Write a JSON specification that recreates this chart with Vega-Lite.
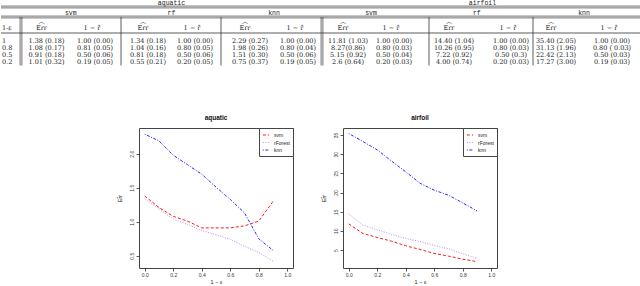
{
  "$schema": "https://vega.github.io/schema/vega-lite/v6.json",
  "padding": 0,
  "background": "white",
  "spacing": 0,
  "config": {
    "view": {"stroke": null},
    "font": "Liberation Sans",
    "axis": {
      "domain": false, "grid": false, "tickSize": 3, "tickColor": "#333", "tickWidth": 0.8,
      "labelFontSize": 5, "labelColor": "#333", "labelPadding": 1.5, "labelFont": "Liberation Sans",
      "labelFlush": false, "labelOverlap": false,
      "titleFontSize": 5.5, "titleFontWeight": "normal", "titleColor": "#222", "titleFont": "Liberation Sans"
    }
  },
  "vconcat": [
    {
      "width": 640,
      "height": 114,
      "view": {"stroke": null},
      "layer": [
        {
          "data": {"values": [{"r": 0.5}, {"r": 1.5}]},
          "mark": {"type": "rule", "strokeWidth": 0.7, "color": "#333", "yOffset": -0.9},
          "encoding": {
            "y": {"field": "r", "type": "quantitative", "axis": null, "scale": {"domain": [0, 0.5, 1, 1.5, 2, 2.5, 3, 6, 6.5], "range": [3.3, 7, 12.5, 17, 28, 33, 40.5, 61.5, 65.5], "nice": false, "zero": false}},
            "x": {"datum": -0.5, "type": "quantitative", "axis": null, "scale": {"domain": [-0.5, 0, 0.5, 1, 2, 2.5, 3, 4, 4.5, 5, 6, 6.5, 7, 8, 8.5, 9, 10, 10.5, 11, 12, 12.5], "range": [0, 7, 20, 45.5, 94, 120, 147, 194, 220, 249, 297, 321, 347, 393, 428, 453, 510, 532, 555, 611, 640], "nice": false, "zero": false}},
            "x2": {"datum": 12.5}
          }
        },
        {
          "data": {"values": [{"r": 0.5}, {"r": 1.5}]},
          "mark": {"type": "rule", "strokeWidth": 0.7, "color": "#333", "yOffset": 0.9},
          "encoding": {
            "y": {"field": "r", "type": "quantitative", "axis": null, "scale": {"domain": [0, 0.5, 1, 1.5, 2, 2.5, 3, 6, 6.5], "range": [3.3, 7, 12.5, 17, 28, 33, 40.5, 61.5, 65.5], "nice": false, "zero": false}},
            "x": {"datum": -0.5, "type": "quantitative", "axis": null, "scale": {"domain": [-0.5, 0, 0.5, 1, 2, 2.5, 3, 4, 4.5, 5, 6, 6.5, 7, 8, 8.5, 9, 10, 10.5, 11, 12, 12.5], "range": [0, 7, 20, 45.5, 94, 120, 147, 194, 220, 249, 297, 321, 347, 393, 428, 453, 510, 532, 555, 611, 640], "nice": false, "zero": false}},
            "x2": {"datum": 12.5}
          }
        },
        {
          "data": {"values": [{"r": 2.5}]},
          "mark": {"type": "rule", "strokeWidth": 0.8, "color": "#333"},
          "encoding": {
            "y": {"field": "r", "type": "quantitative", "axis": null, "scale": {"domain": [0, 0.5, 1, 1.5, 2, 2.5, 3, 6, 6.5], "range": [3.3, 7, 12.5, 17, 28, 33, 40.5, 61.5, 65.5], "nice": false, "zero": false}},
            "x": {"datum": -0.5, "type": "quantitative", "axis": null, "scale": {"domain": [-0.5, 0, 0.5, 1, 2, 2.5, 3, 4, 4.5, 5, 6, 6.5, 7, 8, 8.5, 9, 10, 10.5, 11, 12, 12.5], "range": [0, 7, 20, 45.5, 94, 120, 147, 194, 220, 249, 297, 321, 347, 393, 428, 453, 510, 532, 555, 611, 640], "nice": false, "zero": false}},
            "x2": {"datum": 12.5}
          }
        },
        {
          "data": {"values": [{"c": 0.5}, {"c": 6.5}]},
          "mark": {"type": "rule", "strokeWidth": 0.7, "color": "#333", "xOffset": -0.9},
          "encoding": {
            "x": {"field": "c", "type": "quantitative", "axis": null, "scale": {"domain": [-0.5, 0, 0.5, 1, 2, 2.5, 3, 4, 4.5, 5, 6, 6.5, 7, 8, 8.5, 9, 10, 10.5, 11, 12, 12.5], "range": [0, 7, 20, 45.5, 94, 120, 147, 194, 220, 249, 297, 321, 347, 393, 428, 453, 510, 532, 555, 611, 640], "nice": false, "zero": false}},
            "y": {"datum": 1.5, "type": "quantitative", "axis": null, "scale": {"domain": [0, 0.5, 1, 1.5, 2, 2.5, 3, 6, 6.5], "range": [3.3, 7, 12.5, 17, 28, 33, 40.5, 61.5, 65.5], "nice": false, "zero": false}},
            "y2": {"datum": 6.5}
          }
        },
        {
          "data": {"values": [{"c": 0.5}, {"c": 6.5}]},
          "mark": {"type": "rule", "strokeWidth": 0.7, "color": "#333", "xOffset": 0.9},
          "encoding": {
            "x": {"field": "c", "type": "quantitative", "axis": null, "scale": {"domain": [-0.5, 0, 0.5, 1, 2, 2.5, 3, 4, 4.5, 5, 6, 6.5, 7, 8, 8.5, 9, 10, 10.5, 11, 12, 12.5], "range": [0, 7, 20, 45.5, 94, 120, 147, 194, 220, 249, 297, 321, 347, 393, 428, 453, 510, 532, 555, 611, 640], "nice": false, "zero": false}},
            "y": {"datum": 1.5, "type": "quantitative", "axis": null, "scale": {"domain": [0, 0.5, 1, 1.5, 2, 2.5, 3, 6, 6.5], "range": [3.3, 7, 12.5, 17, 28, 33, 40.5, 61.5, 65.5], "nice": false, "zero": false}},
            "y2": {"datum": 6.5}
          }
        },
        {
          "data": {"values": [{"c": 2.5}, {"c": 4.5}, {"c": 8.5}, {"c": 10.5}]},
          "mark": {"type": "rule", "strokeWidth": 0.8, "color": "#333"},
          "encoding": {
            "x": {"field": "c", "type": "quantitative", "axis": null, "scale": {"domain": [-0.5, 0, 0.5, 1, 2, 2.5, 3, 4, 4.5, 5, 6, 6.5, 7, 8, 8.5, 9, 10, 10.5, 11, 12, 12.5], "range": [0, 7, 20, 45.5, 94, 120, 147, 194, 220, 249, 297, 321, 347, 393, 428, 453, 510, 532, 555, 611, 640], "nice": false, "zero": false}},
            "y": {"datum": 1.5, "type": "quantitative", "axis": null, "scale": {"domain": [0, 0.5, 1, 1.5, 2, 2.5, 3, 6, 6.5], "range": [3.3, 7, 12.5, 17, 28, 33, 40.5, 61.5, 65.5], "nice": false, "zero": false}},
            "y2": {"datum": 6.5}
          }
        },
        {
          "data": {"values": [{"dataset": "aquatic", "c": 3.5}, {"dataset": "airfoil", "c": 9.5}]},
          "mark": {"type": "text", "font": "Liberation Mono", "fontSize": 6.5, "color": "#222", "baseline": "middle", "align": "center"},
          "encoding": {
            "text": {"field": "dataset"},
            "x": {"field": "c", "type": "quantitative", "axis": null, "scale": {"domain": [-0.5, 0, 0.5, 1, 2, 2.5, 3, 4, 4.5, 5, 6, 6.5, 7, 8, 8.5, 9, 10, 10.5, 11, 12, 12.5], "range": [0, 7, 20, 45.5, 94, 120, 147, 194, 220, 249, 297, 321, 347, 393, 428, 453, 510, 532, 555, 611, 640], "nice": false, "zero": false}},
            "y": {"datum": 0, "type": "quantitative", "axis": null, "scale": {"domain": [0, 0.5, 1, 1.5, 2, 2.5, 3, 6, 6.5], "range": [3.3, 7, 12.5, 17, 28, 33, 40.5, 61.5, 65.5], "nice": false, "zero": false}}
          }
        },
        {
          "data": {"values": [{"model": "svm", "c": 1.5}, {"model": "rf", "c": 3.5}, {"model": "knn", "c": 5.5}, {"model": "svm", "c": 7.5}, {"model": "rf", "c": 9.4}, {"model": "knn", "c": 11.5}]},
          "mark": {"type": "text", "font": "Liberation Mono", "fontSize": 6.5, "color": "#222", "baseline": "middle", "align": "center"},
          "encoding": {
            "text": {"field": "model"},
            "x": {"field": "c", "type": "quantitative", "axis": null, "scale": {"domain": [-0.5, 0, 0.5, 1, 2, 2.5, 3, 4, 4.5, 5, 6, 6.5, 7, 8, 8.5, 9, 10, 10.5, 11, 12, 12.5], "range": [0, 7, 20, 45.5, 94, 120, 147, 194, 220, 249, 297, 321, 347, 393, 428, 453, 510, 532, 555, 611, 640], "nice": false, "zero": false}},
            "y": {"datum": 1, "type": "quantitative", "axis": null, "scale": {"domain": [0, 0.5, 1, 1.5, 2, 2.5, 3, 6, 6.5], "range": [3.3, 7, 12.5, 17, 28, 33, 40.5, 61.5, 65.5], "nice": false, "zero": false}}
          }
        },
        {
          "data": {"values": [{"c": 1}, {"c": 3}, {"c": 5}, {"c": 7}, {"c": 9}, {"c": 11}]},
          "mark": {"type": "text", "font": "DejaVu Serif", "fontSize": 6.5, "color": "#222", "baseline": "middle", "align": "center", "dx": -5, "text": "Err"},
          "encoding": {
            "x": {"field": "c", "type": "quantitative", "axis": null, "scale": {"domain": [-0.5, 0, 0.5, 1, 2, 2.5, 3, 4, 4.5, 5, 6, 6.5, 7, 8, 8.5, 9, 10, 10.5, 11, 12, 12.5], "range": [0, 7, 20, 45.5, 94, 120, 147, 194, 220, 249, 297, 321, 347, 393, 428, 453, 510, 532, 555, 611, 640], "nice": false, "zero": false}},
            "y": {"datum": 2, "type": "quantitative", "axis": null, "scale": {"domain": [0, 0.5, 1, 1.5, 2, 2.5, 3, 6, 6.5], "range": [3.3, 7, 12.5, 17, 28, 33, 40.5, 61.5, 65.5], "nice": false, "zero": false}}
          }
        },
        {
          "data": {"values": [{"c": 1}, {"c": 3}, {"c": 5}, {"c": 7}, {"c": 9}, {"c": 11}]},
          "mark": {"type": "text", "font": "Noto Sans CJK SC", "fontSize": 6, "color": "#222", "baseline": "middle", "align": "center", "dx": -5, "dy": -7.2, "text": "︿"},
          "encoding": {
            "x": {"field": "c", "type": "quantitative", "axis": null, "scale": {"domain": [-0.5, 0, 0.5, 1, 2, 2.5, 3, 4, 4.5, 5, 6, 6.5, 7, 8, 8.5, 9, 10, 10.5, 11, 12, 12.5], "range": [0, 7, 20, 45.5, 94, 120, 147, 194, 220, 249, 297, 321, 347, 393, 428, 453, 510, 532, 555, 611, 640], "nice": false, "zero": false}},
            "y": {"datum": 2, "type": "quantitative", "axis": null, "scale": {"domain": [0, 0.5, 1, 1.5, 2, 2.5, 3, 6, 6.5], "range": [3.3, 7, 12.5, 17, 28, 33, 40.5, 61.5, 65.5], "nice": false, "zero": false}}
          }
        },
        {
          "data": {"values": [{"c": 2}, {"c": 4}, {"c": 6}, {"c": 8}, {"c": 10}, {"c": 12}]},
          "mark": {"type": "text", "font": "DejaVu Serif", "fontSize": 6.5, "color": "#222", "baseline": "middle", "align": "center", "dx": -3, "text": "1 − r̂"},
          "encoding": {
            "x": {"field": "c", "type": "quantitative", "axis": null, "scale": {"domain": [-0.5, 0, 0.5, 1, 2, 2.5, 3, 4, 4.5, 5, 6, 6.5, 7, 8, 8.5, 9, 10, 10.5, 11, 12, 12.5], "range": [0, 7, 20, 45.5, 94, 120, 147, 194, 220, 249, 297, 321, 347, 393, 428, 453, 510, 532, 555, 611, 640], "nice": false, "zero": false}},
            "y": {"datum": 2, "type": "quantitative", "axis": null, "scale": {"domain": [0, 0.5, 1, 1.5, 2, 2.5, 3, 6, 6.5], "range": [3.3, 7, 12.5, 17, 28, 33, 40.5, 61.5, 65.5], "nice": false, "zero": false}}
          }
        },
        {
          "data": {"values": [{"label": "1-ε", "row": 2}, {"label": "1", "row": 3}, {"label": "0.8", "row": 4}, {"label": "0.5", "row": 5}, {"label": "0.2", "row": 6}]},
          "mark": {"type": "text", "font": "DejaVu Serif", "fontSize": 6.5, "color": "#222", "baseline": "middle", "align": "left", "dx": 1},
          "encoding": {
            "text": {"field": "label"},
            "x": {"datum": -0.5, "type": "quantitative", "axis": null, "scale": {"domain": [-0.5, 0, 0.5, 1, 2, 2.5, 3, 4, 4.5, 5, 6, 6.5, 7, 8, 8.5, 9, 10, 10.5, 11, 12, 12.5], "range": [0, 7, 20, 45.5, 94, 120, 147, 194, 220, 249, 297, 321, 347, 393, 428, 453, 510, 532, 555, 611, 640], "nice": false, "zero": false}},
            "y": {"field": "row", "type": "quantitative", "axis": null, "scale": {"domain": [0, 0.5, 1, 1.5, 2, 2.5, 3, 6, 6.5], "range": [3.3, 7, 12.5, 17, 28, 33, 40.5, 61.5, 65.5], "nice": false, "zero": false}}
          }
        },
        {
          "data": {"values": [
            {"dataset": "aquatic", "model": "svm", "stat": "Err", "col": 1, "row": 3, "value": "1.38 (0.18)"},
            {"dataset": "aquatic", "model": "svm", "stat": "Err", "col": 1, "row": 4, "value": "1.08 (0.17)"},
            {"dataset": "aquatic", "model": "svm", "stat": "Err", "col": 1, "row": 5, "value": "0.91 (0.18)"},
            {"dataset": "aquatic", "model": "svm", "stat": "Err", "col": 1, "row": 6, "value": "1.01 (0.32)"},
            {"dataset": "aquatic", "model": "svm", "stat": "r", "col": 2, "row": 3, "value": "1.00 (0.00)"},
            {"dataset": "aquatic", "model": "svm", "stat": "r", "col": 2, "row": 4, "value": "0.81 (0.05)"},
            {"dataset": "aquatic", "model": "svm", "stat": "r", "col": 2, "row": 5, "value": "0.50 (0.06)"},
            {"dataset": "aquatic", "model": "svm", "stat": "r", "col": 2, "row": 6, "value": "0.19 (0.05)"},
            {"dataset": "aquatic", "model": "rf", "stat": "Err", "col": 3, "row": 3, "value": "1.34 (0.18)"},
            {"dataset": "aquatic", "model": "rf", "stat": "Err", "col": 3, "row": 4, "value": "1.04 (0.16)"},
            {"dataset": "aquatic", "model": "rf", "stat": "Err", "col": 3, "row": 5, "value": "0.81 (0.18)"},
            {"dataset": "aquatic", "model": "rf", "stat": "Err", "col": 3, "row": 6, "value": "0.55 (0.21)"},
            {"dataset": "aquatic", "model": "rf", "stat": "r", "col": 4, "row": 3, "value": "1.00 (0.00)"},
            {"dataset": "aquatic", "model": "rf", "stat": "r", "col": 4, "row": 4, "value": "0.80 (0.05)"},
            {"dataset": "aquatic", "model": "rf", "stat": "r", "col": 4, "row": 5, "value": "0.50 (0.06)"},
            {"dataset": "aquatic", "model": "rf", "stat": "r", "col": 4, "row": 6, "value": "0.20 (0.05)"},
            {"dataset": "aquatic", "model": "knn", "stat": "Err", "col": 5, "row": 3, "value": "2.29 (0.27)"},
            {"dataset": "aquatic", "model": "knn", "stat": "Err", "col": 5, "row": 4, "value": "1.98 (0.26)"},
            {"dataset": "aquatic", "model": "knn", "stat": "Err", "col": 5, "row": 5, "value": "1.51 (0.30)"},
            {"dataset": "aquatic", "model": "knn", "stat": "Err", "col": 5, "row": 6, "value": "0.75 (0.37)"},
            {"dataset": "aquatic", "model": "knn", "stat": "r", "col": 6, "row": 3, "value": "1.00 (0.00)"},
            {"dataset": "aquatic", "model": "knn", "stat": "r", "col": 6, "row": 4, "value": "0.80 (0.04)"},
            {"dataset": "aquatic", "model": "knn", "stat": "r", "col": 6, "row": 5, "value": "0.50 (0.06)"},
            {"dataset": "aquatic", "model": "knn", "stat": "r", "col": 6, "row": 6, "value": "0.19 (0.05)"},
            {"dataset": "airfoil", "model": "svm", "stat": "Err", "col": 7, "row": 3, "value": "11.81 (1.03)"},
            {"dataset": "airfoil", "model": "svm", "stat": "Err", "col": 7, "row": 4, "value": "8.27(0.86)"},
            {"dataset": "airfoil", "model": "svm", "stat": "Err", "col": 7, "row": 5, "value": "5.15 (0.92)"},
            {"dataset": "airfoil", "model": "svm", "stat": "Err", "col": 7, "row": 6, "value": "2.6 (0.64)"},
            {"dataset": "airfoil", "model": "svm", "stat": "r", "col": 8, "row": 3, "value": "1.00 (0.00)"},
            {"dataset": "airfoil", "model": "svm", "stat": "r", "col": 8, "row": 4, "value": "0.80 (0.03)"},
            {"dataset": "airfoil", "model": "svm", "stat": "r", "col": 8, "row": 5, "value": "0.50 (0.04)"},
            {"dataset": "airfoil", "model": "svm", "stat": "r", "col": 8, "row": 6, "value": "0.20 (0.03)"},
            {"dataset": "airfoil", "model": "rf", "stat": "Err", "col": 9, "row": 3, "value": "14.40 (1.04)"},
            {"dataset": "airfoil", "model": "rf", "stat": "Err", "col": 9, "row": 4, "value": "10.26 (0.95)"},
            {"dataset": "airfoil", "model": "rf", "stat": "Err", "col": 9, "row": 5, "value": "7.22 (0.92)"},
            {"dataset": "airfoil", "model": "rf", "stat": "Err", "col": 9, "row": 6, "value": "4.00 (0.74)"},
            {"dataset": "airfoil", "model": "rf", "stat": "r", "col": 10, "row": 3, "value": "1.00 (0.00)"},
            {"dataset": "airfoil", "model": "rf", "stat": "r", "col": 10, "row": 4, "value": "0.80 (0.03)"},
            {"dataset": "airfoil", "model": "rf", "stat": "r", "col": 10, "row": 5, "value": "0.50 (0.3)"},
            {"dataset": "airfoil", "model": "rf", "stat": "r", "col": 10, "row": 6, "value": "0.20 (0.03)"},
            {"dataset": "airfoil", "model": "knn", "stat": "Err", "col": 11, "row": 3, "value": "35.40 (2.05)"},
            {"dataset": "airfoil", "model": "knn", "stat": "Err", "col": 11, "row": 4, "value": "31.13 (1.96)"},
            {"dataset": "airfoil", "model": "knn", "stat": "Err", "col": 11, "row": 5, "value": "22.42 (2.13)"},
            {"dataset": "airfoil", "model": "knn", "stat": "Err", "col": 11, "row": 6, "value": "17.27 (3.00)"},
            {"dataset": "airfoil", "model": "knn", "stat": "r", "col": 12, "row": 3, "value": "1.00 (0.00)"},
            {"dataset": "airfoil", "model": "knn", "stat": "r", "col": 12, "row": 4, "value": "0.80 ( 0.03)"},
            {"dataset": "airfoil", "model": "knn", "stat": "r", "col": 12, "row": 5, "value": "0.50 (0.03)"},
            {"dataset": "airfoil", "model": "knn", "stat": "r", "col": 12, "row": 6, "value": "0.19 (0.03)"}
          ]},
          "mark": {"type": "text", "font": "DejaVu Serif", "fontSize": 6.5, "color": "#1a1a1a", "baseline": "middle", "align": "center"},
          "encoding": {
            "text": {"field": "value"},
            "x": {"field": "col", "type": "quantitative", "axis": null, "scale": {"domain": [-0.5, 0, 0.5, 1, 2, 2.5, 3, 4, 4.5, 5, 6, 6.5, 7, 8, 8.5, 9, 10, 10.5, 11, 12, 12.5], "range": [0, 7, 20, 45.5, 94, 120, 147, 194, 220, 249, 297, 321, 347, 393, 428, 453, 510, 532, 555, 611, 640], "nice": false, "zero": false}},
            "y": {"field": "row", "type": "quantitative", "axis": null, "scale": {"domain": [0, 0.5, 1, 1.5, 2, 2.5, 3, 6, 6.5], "range": [3.3, 7, 12.5, 17, 28, 33, 40.5, 61.5, 65.5], "nice": false, "zero": false}}
          }
        }
      ]
    },
    {
      "bounds": "flush",
      "spacing": 0,
      "resolve": {"scale": {"color": "independent", "strokeDash": "independent"}},
      "hconcat": [
        {
          "width": 138, "height": 140,
          "view": {"stroke": null},
          "data": {"values": [{"blank": ""}]},
          "mark": {"type": "text"},
          "encoding": {"text": {"field": "blank"}}
        },
        {
          "width": 154, "height": 140,
          "view": {"stroke": "#444", "strokeWidth": 1},
          "title": {"text": "aquatic", "fontSize": 6.5, "font": "Liberation Sans", "fontWeight": "bold", "offset": 6, "color": "#111"},
          "data": {"values": [
            {"x": 0.0, "method": "svm", "err": 1.38}, {"x": 0.1, "method": "svm", "err": 1.21}, {"x": 0.2, "method": "svm", "err": 1.08}, {"x": 0.3, "method": "svm", "err": 1.01}, {"x": 0.4, "method": "svm", "err": 0.91}, {"x": 0.5, "method": "svm", "err": 0.91}, {"x": 0.6, "method": "svm", "err": 0.91}, {"x": 0.7, "method": "svm", "err": 0.94}, {"x": 0.8, "method": "svm", "err": 1.01}, {"x": 0.9, "method": "svm", "err": 1.30},
            {"x": 0.0, "method": "rForest", "err": 1.34}, {"x": 0.1, "method": "rForest", "err": 1.19}, {"x": 0.2, "method": "rForest", "err": 1.04}, {"x": 0.3, "method": "rForest", "err": 0.96}, {"x": 0.4, "method": "rForest", "err": 0.87}, {"x": 0.5, "method": "rForest", "err": 0.81}, {"x": 0.6, "method": "rForest", "err": 0.74}, {"x": 0.7, "method": "rForest", "err": 0.64}, {"x": 0.8, "method": "rForest", "err": 0.55}, {"x": 0.9, "method": "rForest", "err": 0.42},
            {"x": 0.0, "method": "knn", "err": 2.29}, {"x": 0.1, "method": "knn", "err": 2.19}, {"x": 0.2, "method": "knn", "err": 1.98}, {"x": 0.3, "method": "knn", "err": 1.84}, {"x": 0.4, "method": "knn", "err": 1.70}, {"x": 0.5, "method": "knn", "err": 1.51}, {"x": 0.6, "method": "knn", "err": 1.33}, {"x": 0.7, "method": "knn", "err": 1.13}, {"x": 0.8, "method": "knn", "err": 0.75}, {"x": 0.9, "method": "knn", "err": 0.58}
          ]},
          "mark": {"type": "line", "strokeWidth": 1},
          "encoding": {
            "x": {"field": "x", "type": "quantitative", "scale": {"domain": [-0.04, 1.04], "nice": false, "zero": false}, "axis": {"values": [0, 0.2, 0.4, 0.6, 0.8, 1], "format": ".1f", "title": "1 − ε", "titlePadding": 2}},
            "y": {"field": "err", "type": "quantitative", "scale": {"domain": [0.32, 2.38], "nice": false, "zero": false}, "axis": {"values": [0.5, 1, 1.5, 2], "format": ".1f", "labelAngle": -90, "labelAlign": "center", "labelBaseline": "bottom", "title": "Er̂r", "titlePadding": 7}},
            "color": {"field": "method", "type": "nominal", "scale": {"domain": ["svm", "rForest", "knn"], "range": ["#ff1a1a", "#b98ef0", "#2a2aff"]}, "legend": {"title": null, "orient": "top-right", "offset": 0, "padding": 3, "strokeColor": "#444", "fillColor": "#ffffff", "labelFontSize": 5, "labelFont": "Liberation Sans", "labelColor": "#222", "symbolSize": 40, "symbolStrokeWidth": 1, "symbolType": "stroke", "rowPadding": 0.5, "labelOffset": 4}},
            "strokeDash": {"field": "method", "type": "nominal", "scale": {"domain": ["svm", "rForest", "knn"], "range": [[3, 2], [1, 1.5], [1, 1.5, 3, 1.5]]}, "legend": {"title": null, "orient": "top-right", "offset": 0, "padding": 3, "strokeColor": "#444", "fillColor": "#ffffff", "labelFontSize": 5, "labelFont": "Liberation Sans", "labelColor": "#222", "symbolSize": 40, "symbolStrokeWidth": 1, "symbolType": "stroke", "rowPadding": 0.5, "labelOffset": 4}}
          }
        },
        {
          "width": 50, "height": 140,
          "view": {"stroke": null},
          "data": {"values": [{"blank": ""}]},
          "mark": {"type": "text"},
          "encoding": {"text": {"field": "blank"}}
        },
        {
          "width": 154, "height": 140,
          "view": {"stroke": "#444", "strokeWidth": 1},
          "title": {"text": "airfoil", "fontSize": 6.5, "font": "Liberation Sans", "fontWeight": "bold", "offset": 6, "color": "#111"},
          "data": {"values": [
            {"x": 0.0, "method": "svm", "err": 11.81}, {"x": 0.1, "method": "svm", "err": 9.3}, {"x": 0.2, "method": "svm", "err": 8.27}, {"x": 0.3, "method": "svm", "err": 7.3}, {"x": 0.4, "method": "svm", "err": 6.1}, {"x": 0.5, "method": "svm", "err": 5.15}, {"x": 0.6, "method": "svm", "err": 4.1}, {"x": 0.7, "method": "svm", "err": 3.4}, {"x": 0.8, "method": "svm", "err": 2.6}, {"x": 0.9, "method": "svm", "err": 1.96},
            {"x": 0.0, "method": "rForest", "err": 14.40}, {"x": 0.1, "method": "rForest", "err": 11.5}, {"x": 0.2, "method": "rForest", "err": 10.26}, {"x": 0.3, "method": "rForest", "err": 9.1}, {"x": 0.4, "method": "rForest", "err": 8.0}, {"x": 0.5, "method": "rForest", "err": 7.22}, {"x": 0.6, "method": "rForest", "err": 6.2}, {"x": 0.7, "method": "rForest", "err": 5.3}, {"x": 0.8, "method": "rForest", "err": 4.00}, {"x": 0.9, "method": "rForest", "err": 2.8},
            {"x": 0.0, "method": "knn", "err": 35.40}, {"x": 0.1, "method": "knn", "err": 33.3}, {"x": 0.2, "method": "knn", "err": 31.13}, {"x": 0.3, "method": "knn", "err": 28.2}, {"x": 0.4, "method": "knn", "err": 25.4}, {"x": 0.5, "method": "knn", "err": 22.42}, {"x": 0.6, "method": "knn", "err": 20.6}, {"x": 0.7, "method": "knn", "err": 19.3}, {"x": 0.8, "method": "knn", "err": 17.27}, {"x": 0.9, "method": "knn", "err": 15.2}
          ]},
          "mark": {"type": "line", "strokeWidth": 1},
          "encoding": {
            "x": {"field": "x", "type": "quantitative", "scale": {"domain": [-0.04, 1.04], "nice": false, "zero": false}, "axis": {"values": [0, 0.2, 0.4, 0.6, 0.8, 1], "format": ".1f", "title": "1 − ε", "titlePadding": 2}},
            "y": {"field": "err", "type": "quantitative", "scale": {"domain": [0.3, 36.83], "nice": false, "zero": false}, "axis": {"values": [5, 10, 15, 20, 25, 30, 35], "format": "d", "labelAngle": -90, "labelAlign": "center", "labelBaseline": "bottom", "title": "Er̂r", "titlePadding": 7}},
            "color": {"field": "method", "type": "nominal", "scale": {"domain": ["svm", "rForest", "knn"], "range": ["#ff1a1a", "#b98ef0", "#2a2aff"]}, "legend": {"title": null, "orient": "top-right", "offset": 0, "padding": 3, "strokeColor": "#444", "fillColor": "#ffffff", "labelFontSize": 5, "labelFont": "Liberation Sans", "labelColor": "#222", "symbolSize": 40, "symbolStrokeWidth": 1, "symbolType": "stroke", "rowPadding": 0.5, "labelOffset": 4}},
            "strokeDash": {"field": "method", "type": "nominal", "scale": {"domain": ["svm", "rForest", "knn"], "range": [[3, 2], [1, 1.5], [1, 1.5, 3, 1.5]]}, "legend": {"title": null, "orient": "top-right", "offset": 0, "padding": 3, "strokeColor": "#444", "fillColor": "#ffffff", "labelFontSize": 5, "labelFont": "Liberation Sans", "labelColor": "#222", "symbolSize": 40, "symbolStrokeWidth": 1, "symbolType": "stroke", "rowPadding": 0.5, "labelOffset": 4}}
          }
        }
      ]
    }
  ]
}
